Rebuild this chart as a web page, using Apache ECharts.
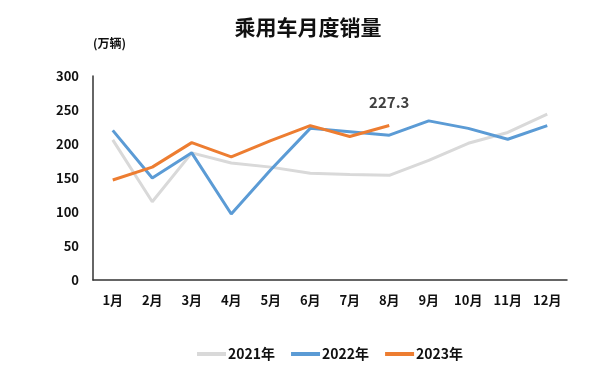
<!DOCTYPE html>
<html>
<head>
<meta charset="utf-8">
<script src="https://cdn.jsdelivr.net/npm/echarts@6/dist/echarts.min.js"></script>
<style>
  html, body { margin: 0; padding: 0; background: #fff; }
  #chart { width: 616px; height: 376px; }
</style>
</head>
<body>
<div id="chart"></div>
<script>
// 乘用车月度销量（万辆）
var months = ['1月', '2月', '3月', '4月', '5月', '6月', '7月', '8月', '9月', '10月', '11月', '12月'];
var sales2021 = [206, 115, 187, 172, 166, 157, 155, 154, 176, 201, 217, 244];
var sales2022 = [220, 150, 187, 97, 162, 223, 218, 213, 234, 223, 207, 227];
var sales2023 = [147, 166, 202, 181, 205, 227, 211, 227.3];

var font = '"Noto Sans CJK SC", "Noto Sans", sans-serif';

var myChart = echarts.init(document.getElementById('chart'));
var option = {
  backgroundColor: '#fff',
  textStyle: { fontFamily: font },
  title: {
    text: '乘用车月度销量',
    left: 'center',
    top: 12,
    textStyle: { fontSize: 21, fontWeight: 'bold', color: '#111', fontFamily: font }
  },
  legend: {
    bottom: 10,
    left: 192,
    itemWidth: 29,
    itemHeight: 4,
    itemGap: 16,
    icon: 'rect',
    textStyle: { fontSize: 14, fontWeight: 'bold', color: '#111', fontFamily: font, padding: [0, 0, 0, -3] },
    data: ['2021年', '2022年', '2023年']
  },
  grid: { left: 93, right: 49, top: 76, bottom: 96 },
  xAxis: {
    type: 'category',
    data: months,
    boundaryGap: true,
    axisLine: { lineStyle: { color: '#333', width: 1.5 } },
    axisTick: { show: false },
    axisLabel: { margin: 14, fontSize: 13, fontWeight: 'bold', color: '#111', fontFamily: font }
  },
  yAxis: {
    type: 'value',
    name: '(万辆)',
    nameLocation: 'end',
    nameGap: 27,
    nameTextStyle: { fontSize: 12, fontWeight: 'bold', color: '#111', align: 'left' },
    min: 0,
    max: 300,
    interval: 50,
    axisLine: { show: true, lineStyle: { color: '#333', width: 1.5 } },
    axisTick: { show: false },
    splitLine: { show: false },
    axisLabel: { margin: 14, fontSize: 13, fontWeight: 'bold', color: '#111', fontFamily: font }
  },
  series: [
    {
      name: '2021年',
      type: 'line',
      data: sales2021,
      symbol: 'none',
      color: '#d9d9d9',
      lineStyle: { width: 3 }
    },
    {
      name: '2022年',
      type: 'line',
      data: sales2022,
      symbol: 'none',
      color: '#5b9bd5',
      lineStyle: { width: 3 }
    },
    {
      name: '2023年',
      type: 'line',
      data: sales2023.map(function (v, i) {
        if (i === sales2023.length - 1) {
          return {
            value: v,
            label: {
              show: true,
              position: 'top',
              distance: 16,
              formatter: '{c}',
              fontSize: 15,
              fontWeight: 'bold',
              color: '#404040',
              fontFamily: font
            }
          };
        }
        return v;
      }),
      symbol: 'circle',
      symbolSize: 0,
      showSymbol: true,
      color: '#ed7d31',
      lineStyle: { width: 3 },
      z: 3
    }
  ]
};
myChart.setOption(option);
</script>
</body>
</html>
